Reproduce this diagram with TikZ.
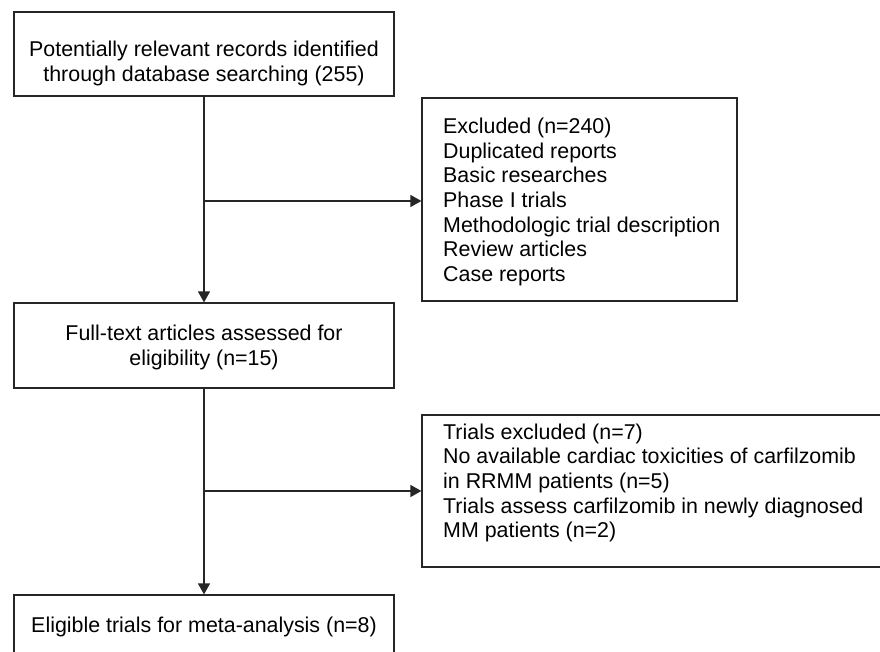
\documentclass[tikz,border=0pt]{standalone}
\usepackage{fontspec}
\setmainfont{Liberation Sans}
\usetikzlibrary{arrows.meta}
\begin{document}
\begin{tikzpicture}[x=1pt,y=-1pt,
  box/.style={draw=black!85, line width=1.2pt, inner sep=0pt, rectangle},
  txt/.style={inner sep=0pt, font=\fontsize{21.4}{24.6}\selectfont},
  arr/.style={draw=black!85, line width=1.2pt, -{Triangle[length=11pt,width=12pt]}}]
\useasboundingbox (0,0) rectangle (880,652);
\clip (0,0) rectangle (880,652);
\fill[white] (0,0) rectangle (880,652);
% boxes
\node[box, minimum width=380pt, minimum height=84pt] (b1) at (204,54) {};
\node[box, minimum width=315pt, minimum height=203pt] (b2) at (579.5,199.5) {};
\node[box, minimum width=380pt, minimum height=85pt] (b3) at (204,345.5) {};
\node[box, minimum width=463pt, minimum height=152pt] (b4) at (653.5,491) {};
\node[box, minimum width=380pt, minimum height=65pt] (b5) at (204,627.5) {};
% texts
\node[txt, align=center] (t1) at (204,63.3) {Potentially relevant records identified\\through database searching (255)};
\node[txt, align=left, anchor=west] (t2) at (443,202) {Excluded (n=240)\\Duplicated reports\\Basic researches\\Phase I trials\\Methodologic trial description\\Review articles\\Case reports};
\node[txt, align=center] (t3) at (204,347.6) {Full-text articles assessed for\\eligibility (n=15)};
\node[txt, align=left, anchor=west] (t4) at (443,483) {Trials excluded (n=7)\\No available cardiac toxicities of carfilzomib\\in RRMM patients (n=5)\\Trials assess carfilzomib in newly diagnosed\\MM patients (n=2)};
\node[txt, anchor=base] (t5) at (204,632.5) {Eligible trials for meta-analysis (n=8)};
% connectors
\coordinate (j1) at (204,201);
\coordinate (j2) at (204,491);
\draw[arr] (b1.south) -- (b3.north);
\draw[arr] (j1) -- (j1 -| b2.west);
\draw[arr] (b3.south) -- (b5.north);
\draw[arr] (j2) -- (j2 -| b4.west);
\end{tikzpicture}
\end{document}
